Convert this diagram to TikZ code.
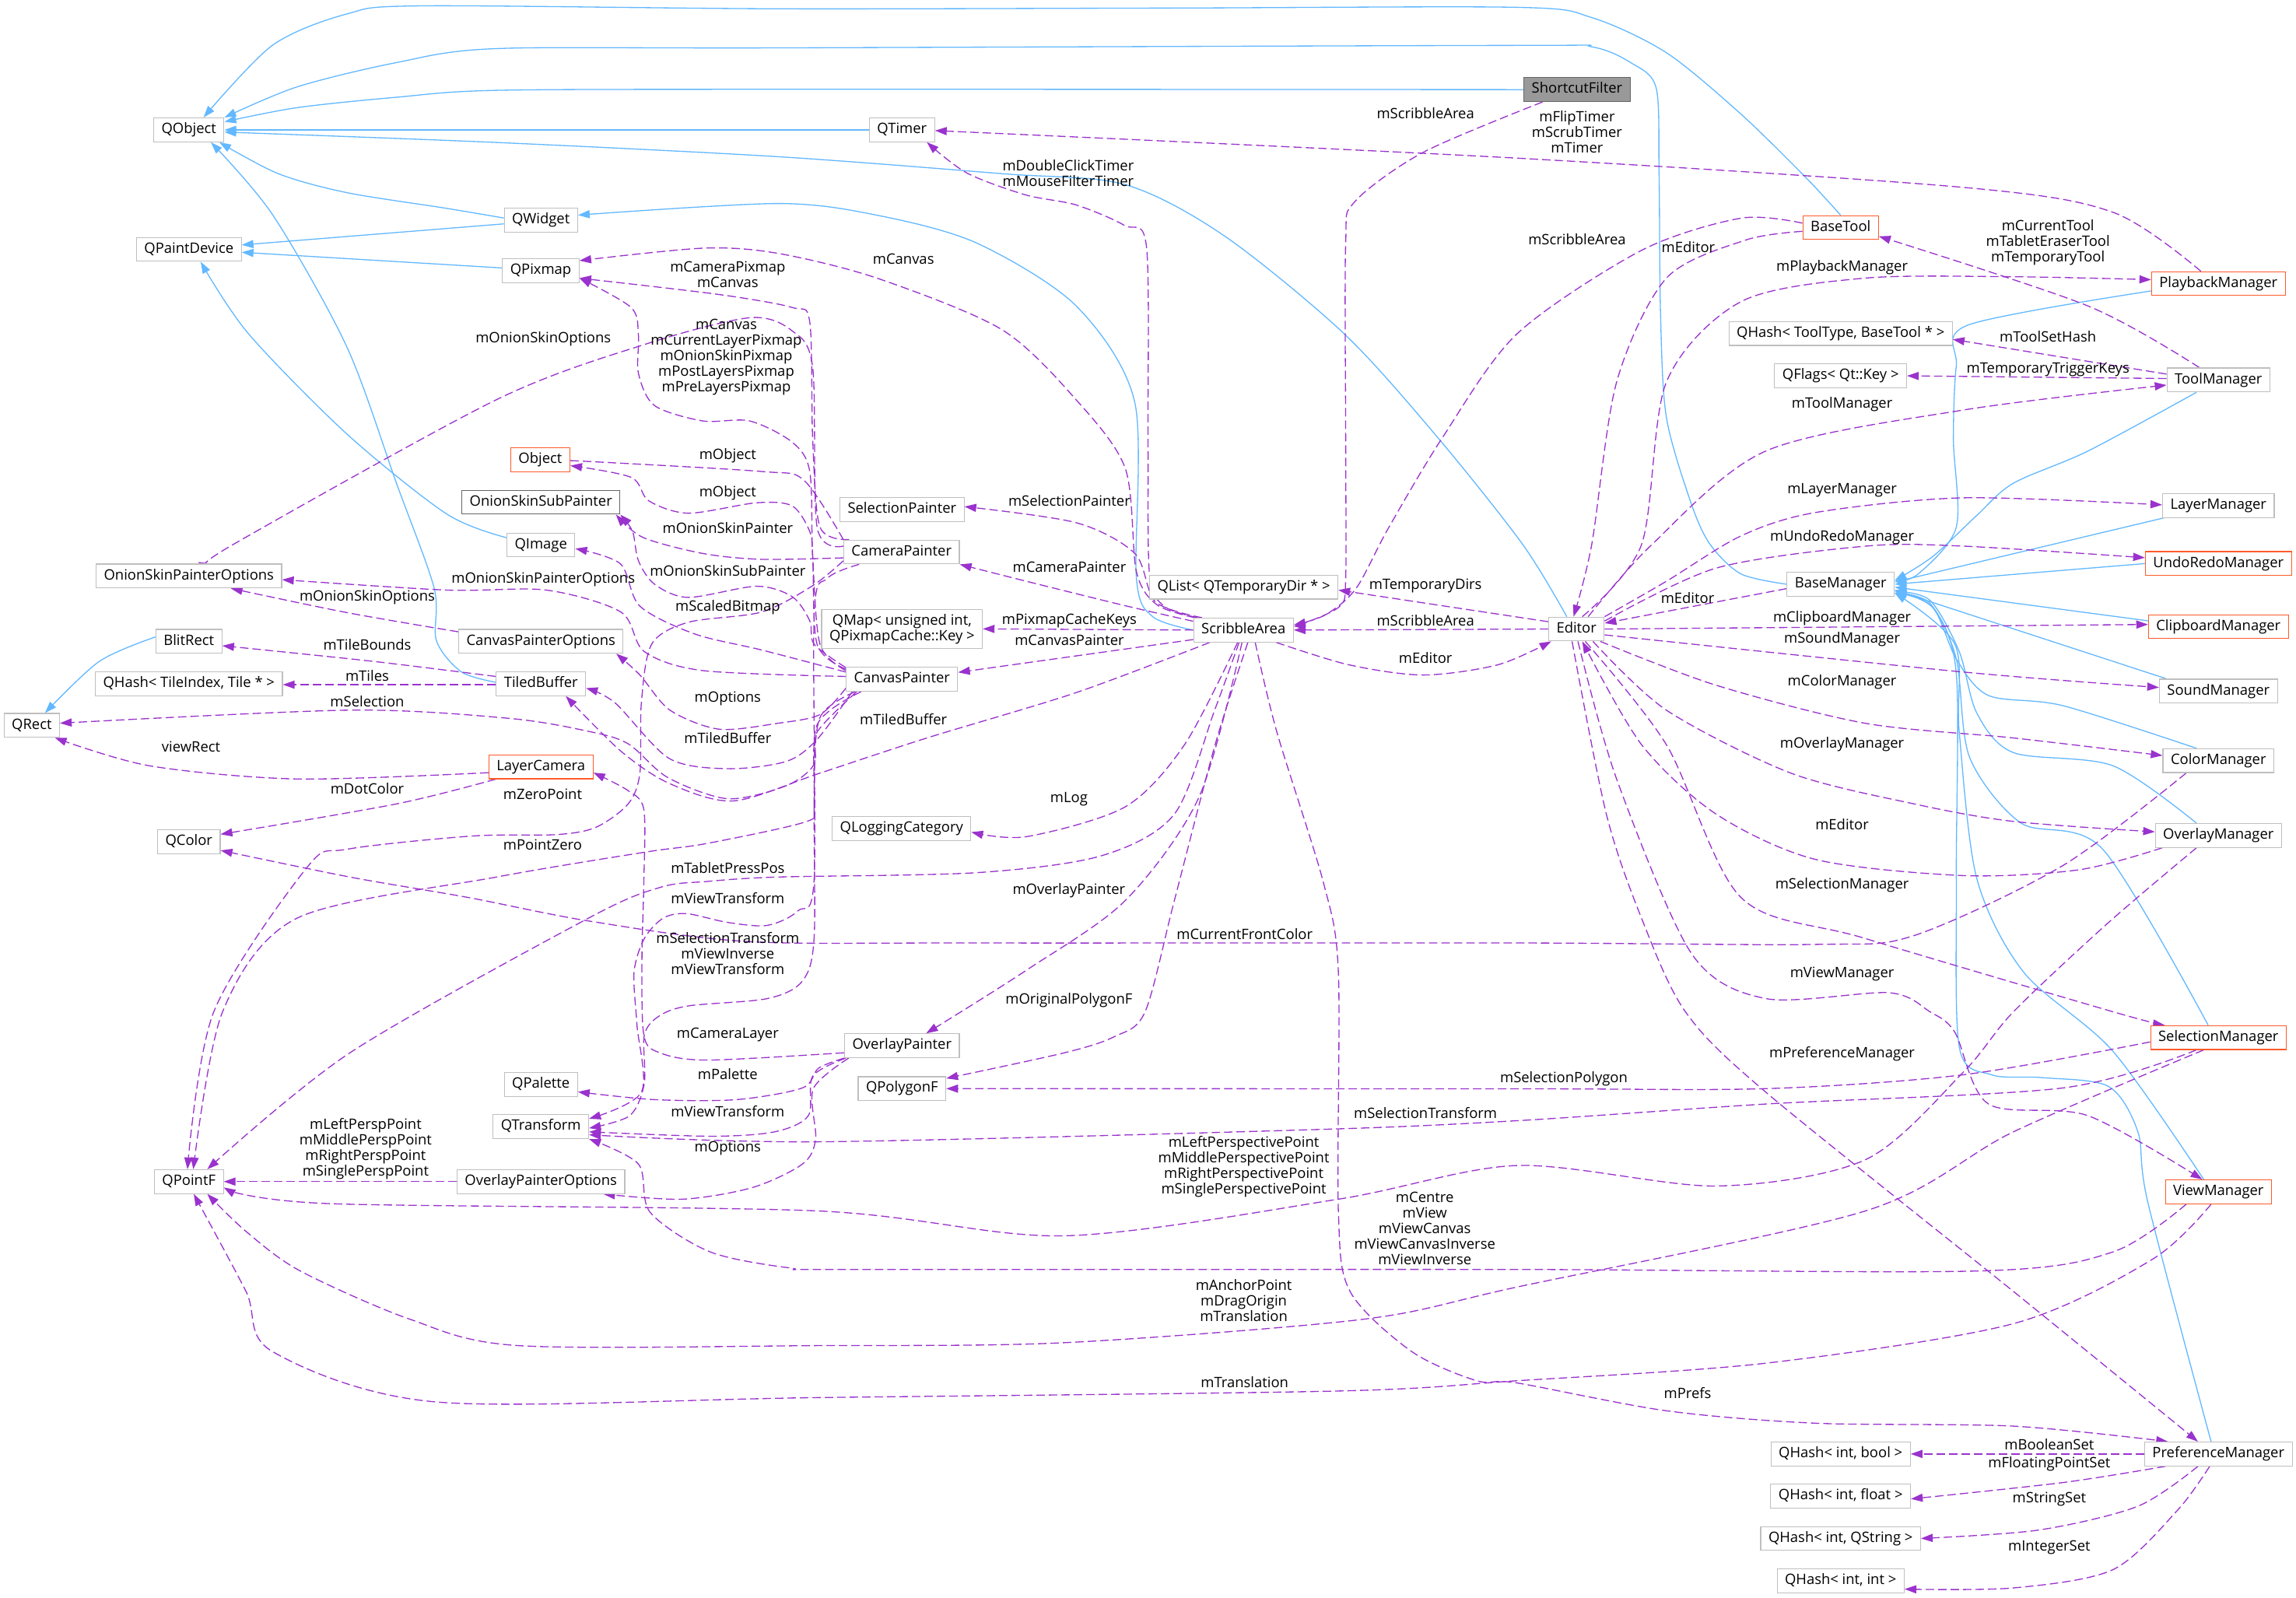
\documentclass[tikz,border=0pt]{standalone}
\usepackage{fontspec}
\setmainfont{Open Sans}
\usetikzlibrary{arrows.meta}

\definecolor{inhblue}{HTML}{63B8FF}
\definecolor{usepurple}{HTML}{9A32CD}
\definecolor{boxgrey}{HTML}{BFBFBF}
\definecolor{docgrey}{HTML}{666666}
\definecolor{rootgrey}{HTML}{999999}
\definecolor{truncred}{HTML}{FF5A2A}

\pgfdeclarelayer{edges}
\pgfsetlayers{edges,main}

\tikzset{
  cls/.style={draw=boxgrey, fill=white, line width=0.6pt, font=\fontsize{9.8}{10.6}\selectfont,
    inner xsep=5.3pt, inner ysep=0pt, minimum height=16.3pt, text height=7.3pt, text depth=2.3pt},
  clstwo/.style={draw=boxgrey, fill=white, line width=0.6pt, font=\fontsize{9.8}{10.6}\selectfont,
    align=center, inner xsep=5.3pt, inner ysep=2pt, minimum height=26.8pt},
  trunc/.style={cls, draw=truncred},
  docd/.style={cls, draw=docgrey},
  rootcls/.style={cls, draw=docgrey, fill=rootgrey},
  lbl/.style={font=\fontsize{9.8}{10.6}\selectfont, align=center, inner sep=0pt},
  inh/.style={draw=inhblue, line width=0.7pt, -{Triangle[length=8pt,width=5.5pt]}},
  usage/.style={draw=usepurple, line width=0.7pt, dash pattern=on 5.8pt off 2.7pt, -{Triangle[length=8pt,width=5.5pt]}},
}

\begin{document}
\begin{tikzpicture}[x=1pt,y=-1pt]
\useasboundingbox (0,0) rectangle (1568,1091);

%Classes, left columns
\node[cls] (qobj) at (129,88.7) {QObject};
\node[cls] (qwid) at (369.4,150.4) {QWidget};
\node[cls] (qpd) at (129,170.3) {QPaintDevice};
\node[cls] (qpix) at (369.3,185) {QPixmap};
\node[trunc] (obj) at (369,314) {Object};
\node[docd] (ossp) at (369.4,343) {OnionSkinSubPainter};
\node[cls] (qimg) at (369.4,372.2) {QImage};
\node[cls] (ospo) at (129,393.4) {OnionSkinPainterOptions};
\node[cls] (cpo) at (369.4,438) {CanvasPainterOptions};
\node[cls] (blit) at (129,438) {BlitRect};
\node[cls] (qhtile) at (129,467) {QHash< TileIndex, Tile * >};
\node[cls] (tiled) at (369.4,467) {TiledBuffer};
\node[cls] (qrect) at (21.7,495.4) {QRect};
\node[trunc] (lcam) at (369.4,523.7) {LayerCamera};
\node[cls] (qcolor) at (129,575) {QColor};
\node[cls] (qpf) at (129,807) {QPointF};
\node[cls] (opo) at (369.4,807) {OverlayPainterOptions};
\node[cls] (qpal) at (369.4,740.7) {QPalette};
\node[cls] (qtr) at (369.4,769.5) {QTransform};

%Classes, middle columns
\node[rootcls] (scf) at (1077,61.2) {ShortcutFilter};
\node[cls] (qtimer) at (616,88.7) {QTimer};
\node[cls] (selp) at (616,348) {SelectionPainter};
\node[cls] (camp) at (615.7,377) {CameraPainter};
\node[clstwo] (qmap) at (616,429.5) {QMap< unsigned int,\\ QPixmapCache::Key >};
\node[cls] (canp) at (616,464) {CanvasPainter};
\node[cls] (qlog) at (615.7,565.8) {QLoggingCategory};
\node[cls] (qlist) at (849.4,401) {QList< QTemporaryDir * >};
\node[cls] (sarea) at (849.2,430.3) {ScribbleArea};
\node[cls] (editor) at (1076.6,429.6) {Editor};
\node[cls] (ovp) at (616,714.2) {OverlayPainter};
\node[cls] (qpoly) at (616,743.5) {QPolygonF};

%Classes, right columns
\node[trunc] (btool) at (1257,155.4) {BaseTool};
\node[trunc] (playm) at (1515,193.7) {PlaybackManager};
\node[cls] (qhtool) at (1257,227.8) {QHash< ToolType, BaseTool * >};
\node[cls] (qflags) at (1257,256.7) {QFlags< Qt::Key >};
\node[cls] (toolm) at (1515,259.5) {ToolManager};
\node[cls] (layerm) at (1515,345.3) {LayerManager};
\node[trunc] (undom) at (1515,384.9) {UndoRedoManager};
\node[cls] (basem) at (1257,399) {BaseManager};
\node[trunc] (clipm) at (1515,428) {ClipboardManager};
\node[cls] (soundm) at (1515,472) {SoundManager};
\node[cls] (colorm) at (1515,519.5) {ColorManager};
\node[cls] (overm) at (1515,570.6) {OverlayManager};
\node[trunc] (selm) at (1515,708.6) {SelectionManager};
\node[trunc] (viewm) at (1515,814) {ViewManager};
\node[cls] (prefm) at (1515,993) {PreferenceManager};
\node[cls] (qhbool) at (1257,993) {QHash< int, bool >};
\node[cls] (qhfloat) at (1257,1021.7) {QHash< int, float >};
\node[cls] (qhstr) at (1257,1050.7) {QHash< int, QString >};
\node[cls] (qhint) at (1257,1079.8) {QHash< int, int >};

\begin{pgfonlayer}{edges}
%Inheritance
\draw[inh] plot[smooth] coordinates {(btool.north) (1233,121) (1189,78) (1138,36) (1087,12) (1036,5) (800,5.5) (531,6) (288,4) (237,9.5) (186,31) ([xshift=10pt]qobj.north)};
\draw[inh] plot[smooth] coordinates {(basem.west) (1189,392) (1168,372) (1155,344) (1138,285) (1134,214) (1133,118) (1131,60) (1114,43) (1087,32) (1036,31) (531,32.7) (339,33.2) (271,42.7) (203,59.3) (qobj.north east)};
\draw[inh] plot[smooth] coordinates {(scf.west) (531,61) (339,61.7) (271,66.4) (203,73.5) ([yshift=5.5pt]qobj.east)};
\draw[inh] (qtimer.west) -- (qobj.east);
\draw[inh] plot[smooth] coordinates {([xshift=-6.6pt]editor.north) (1040,372) (982,299) (918,228) (836,161) (768,126) (684,118.6) (531,107) (339,97.3) ([yshift=-1.5pt]qobj.east)};
\draw[inh] plot[smooth] coordinates {([yshift=1.5pt]qwid.west) (305,142.3) (237,131.6) (190,118.6) ([xshift=-3.5pt]qobj.south east)};
\draw[inh] plot[smooth] coordinates {([yshift=1pt]tiled.west) (315,458.8) (298,437.4) (296.5,401.7) (271,330.7) (237,237.2) (186.4,147) ([xshift=15pt]qobj.south)};
\draw[inh] ([yshift=-2.5pt]qwid.west) -- ([yshift=3pt]qpd.east);
\draw[inh] ([yshift=2pt]qpix.west) -- ([yshift=-2pt]qpd.east);
\draw[inh] plot[smooth] coordinates {([yshift=5pt]qimg.west) (305,351) (237,296.5) (169.5,227.7) ([xshift=8pt]qpd.south)};
\draw[inh] plot[smooth] coordinates {(sarea.west) (787,421) (776,394) (775,275) (735,209) (667,166) (599,147) (531,139) ([yshift=3.5pt]qwid.east)};
\draw[inh] plot[smooth] coordinates {([yshift=3pt]blit.west) (67.8,451.7) ([xshift=9pt]qrect.north)};
\draw[inh] plot[smooth] coordinates {([yshift=-5pt]playm.west) (1344,222) (1336,250) (1334,300) (1336,360) (1310,392) ([yshift=2pt]basem.east)};
\draw[inh] plot[smooth] coordinates {([xshift=-15pt]toolm.south) (1426,308) (1375,330) (1350,352) (1320,380) ([yshift=2.5pt]basem.east)};
\draw[inh] ([xshift=1pt]layerm.south west) -- ([yshift=1.5pt]basem.east);
\draw[inh] (undom.west) -- (basem.east);
\draw[inh] ([yshift=4pt]clipm.west) -- ([yshift=-2pt]basem.east);
\draw[inh] ([xshift=5pt]soundm.north west) -- ([yshift=-4pt]basem.east);
\draw[inh] plot[smooth] coordinates {([xshift=-15pt]colorm.north) (1409,482) (1358,475) (1336,450) (1320,415) ([yshift=-4pt]basem.east)};
\draw[inh] plot[smooth] coordinates {([xshift=-15pt]overm.north) (1443,523) (1375,514) (1350,487) (1338,445) (1318,410) ([yshift=-5pt]basem.east)};
\draw[inh] plot[smooth] coordinates {([xshift=-7pt]selm.north) (1436,580) (1380,562) (1345,517) (1336,450) (1318,412) ([yshift=-6pt]basem.east)};
\draw[inh] plot[smooth] coordinates {([xshift=-10pt]viewm.north) (1443,718) (1382,664) (1350,600) (1338,500) (1335,440) ([yshift=-6pt]basem.east)};
\draw[inh] plot[smooth] coordinates {([xshift=-5pt]prefm.north) (1467,822) (1460,773) (1440,742) (1395,736) (1360,734) (1338,715) (1336,600) (1336,460) (1320,415) ([yshift=-6pt]basem.east)};

%Usage, top and right
\draw[usage] plot[smooth] coordinates {([xshift=13pt]scf.south west) (972,104) (925,138) (919,166) (919,300) (919,395) (915,414) (891,425.6) ([yshift=2.5pt]sarea.east)};
\draw[usage] plot[smooth] coordinates {([xshift=-12pt]playm.north) (1443,145) (1341,128) (1036,108) ([yshift=-0.5pt]qtimer.east)};
\draw[usage] plot[smooth] coordinates {([xshift=3pt]sarea.north west) (795,414) (785,392) (784,300) (783,169) (768,154) (735,140) (700,133) (660,118) ([xshift=17pt]qtimer.south)};
\draw[usage] plot[smooth] coordinates {([yshift=3pt]btool.west) (1189,149) (1121,171) (1036,228) (985,299) (948,361) (926,402) (905,420) ([yshift=3.5pt]sarea.east)};
\draw[usage] plot[smooth] coordinates {([yshift=-2.6pt]btool.west) (1192,164) (1138,190) (1104,261) (1087,372) ([xshift=-2pt]editor.north)};
\draw[usage] plot[smooth] coordinates {([xshift=-13pt]toolm.north) (1426,209) ([yshift=-6pt]btool.east)};
\draw[usage] plot[smooth] coordinates {([xshift=4pt]editor.north) (1121,372) (1138,261) (1189,206) (1273,190) (1374,189) ([yshift=2.7pt]playm.west)};
\draw[usage] ([yshift=4pt]toolm.west) -- ([yshift=-4pt]qhtool.east);
\draw[usage] ([yshift=1pt]toolm.west) -- (qflags.east);
\draw[usage] plot[smooth] coordinates {([xshift=8pt]editor.north) (1128,372) (1206,308) (1341,280) ([yshift=-3.5pt]toolm.west)};
\draw[usage] plot[smooth] coordinates {(editor.north east) (1138,397) (1189,366) (1240,350) (1341,340) ([yshift=0.5pt]layerm.west)};
\draw[usage] plot[smooth] coordinates {([yshift=-3pt]editor.north east) (1172,388) (1274,373) (1341,373) ([yshift=4pt]undom.west)};
\draw[usage] ([yshift=-3pt]basem.west) -- ([yshift=4pt]editor.east);
\draw[usage] (editor.east) -- ([yshift=1.5pt]clipm.west);
\draw[usage] plot[smooth] coordinates {([yshift=-4pt]editor.east) (1341,459) ([yshift=2.5pt]soundm.west)};
\draw[usage] plot[smooth] coordinates {([xshift=-3pt]editor.south east) (1172,468) (1274,494) (1375,504) ([yshift=3.5pt]colorm.west)};
\draw[usage] plot[smooth] coordinates {([xshift=-8pt]editor.south east) (1138,485) (1223,528) (1307,549) (1375,561) ([yshift=2.5pt]overm.west)};
\draw[usage] plot[smooth] coordinates {([xshift=5pt]overm.south west) (1420,594) (1341,598) (1240,587) (1172,556) (1121,508.5) ([xshift=4pt]editor.south)};
\draw[usage] plot[smooth] coordinates {([xshift=6pt]editor.south) (1138,508.6) (1189,613) (1274,641) (1443,691) ([xshift=10pt]selm.north west)};
\draw[usage] plot[smooth] coordinates {([xshift=1pt]editor.south) (1104,532) (1155,651) (1206,682) (1290,678) (1318,691) (1335,705) (1358,754) (1426,762) ([xshift=-11pt]viewm.north)};
\draw[usage] plot[smooth] coordinates {([xshift=-3pt]editor.south) (1097,556) (1121,627) (1151,691) (1206,746) (1375,882) ([xshift=-14pt]prefm.north)};
\draw[usage] plot[smooth] coordinates {([xshift=-22pt]colorm.south) (1409,591) (1307,639) (1240,645) (1036,644) (664,644) (510,643) (402,629) (320,613) (239,599) ([yshift=-5.8pt]qcolor.east)};
\draw[usage] plot[smooth] coordinates {([yshift=-3pt]selm.west) (1341,734) (1206,743.5) (1036,743.6) (qpoly.east)};
\draw[usage] plot[smooth] coordinates {([xshift=-15pt]selm.south) (1409,743) (1206,754) (1036,765.4) (897,771.5) (558,779.8) ([yshift=-5.5pt]qtr.east)};
\draw[usage] plot[smooth] coordinates {([xshift=-15pt]overm.south) (1440,630) (1375,691) (1341,732) (1274,792) (1172,810) (1036,796) (914,819) (727,844) (558,827) (224,822) ([yshift=-4pt]qpf.east)};
\draw[usage] plot[smooth] coordinates {([xshift=-22pt]viewm.south) (1443,855) (1352,868) (1036,867) (584,867) (540,866) (485,855) (444,828) (436,795) (qtr.south east)};
\draw[usage] plot[smooth] coordinates {([xshift=-10pt]selm.south) (1375,773) (1274,827) (1036,879) (931,901) (727,917) (558,919) (354,919) (280,901) (205,868) (168,841) ([xshift=12.6pt]qpf.south)};
\draw[usage] plot[smooth] coordinates {([xshift=-5pt]viewm.south) (1470,860) (1375,904) (1206,931) (1036,943) (914,950) (558,954.5) (298,957.5) (186,923) (168,882) ([xshift=3.3pt]qpf.south)};
\draw[usage] plot[smooth] coordinates {([xshift=8pt]sarea.south) (872,500) (904,603.5) (914,664) (914,827) (922,882) (964,923) (1008.5,943) (1036,944.5) (1138,963.5) (1240,972) (1375,974) ([xshift=-34.5pt]prefm.north)};
\draw[usage] (prefm.west) -- (qhbool.east);
\draw[usage] plot[smooth] coordinates {([xshift=14.5pt]prefm.south west) (1409,1012.5) ([yshift=-2pt]qhfloat.east)};
\draw[usage] plot[smooth] coordinates {([xshift=-14pt]prefm.south) (1460,1028.7) (1392,1045) (qhstr.east)};
\draw[usage] plot[smooth] coordinates {([xshift=-6pt]prefm.south) (1487,1031.5) (1443,1072) (1375,1084.5) ([yshift=-5.5pt]qhint.east)};

%Usage, ScribbleArea and Editor
\draw[usage] ([yshift=5pt]editor.west) -- ([yshift=-2pt]qlist.east);
\draw[usage] (editor.west) -- (sarea.east);
\draw[usage] plot[smooth] coordinates {([xshift=-12pt]sarea.south east) (921,454) (972,461) (1023,454) ([xshift=2pt]editor.south west)};
\draw[usage] plot[smooth] coordinates {([xshift=6pt]sarea.north west) (789,411) (775,378) (735,357) ([yshift=2pt]selp.east)};
\draw[usage] plot[smooth] coordinates {([yshift=6pt]sarea.west) (768.5,413.7) (701,397) (camp.south east)};
\draw[usage] (sarea.west) -- (qmap.east);
\draw[usage] ([yshift=-6.5pt]sarea.west) -- ([yshift=4.8pt]canp.east);
\draw[usage] plot[smooth] coordinates {([xshift=-4pt]sarea.south) (809,508.5) (768.5,551) (701,571.4) ([yshift=-2.5pt]qlog.east)};
\draw[usage] plot[smooth] coordinates {([xshift=-1pt]sarea.south) (819,544) (768.5,615) (701,662.6) ([xshift=16.5pt]ovp.north)};
\draw[usage] plot[smooth] coordinates {([xshift=3pt]sarea.south) (830,508) (802,615) (782,691) (761,708) (727,719) ([yshift=7pt]qpoly.east)};
\draw[usage] plot[smooth] coordinates {([xshift=-3pt]sarea.south) (829.5,485) (802,556) (752,584.5) (667,596) (531,599) (483,602) (451,606) (402,627) (239,719) ([xshift=12.6pt]qpf.north)};
\draw[usage] plot[smooth] coordinates {([xshift=1pt]sarea.north west) (790,413) (776,390) (768.5,320) (734.7,272.8) (684,225) (599,190) (531,173) (480,169.5) ([yshift=7pt]qpix.east)};
\draw[usage] plot[smooth] coordinates {([xshift=-23pt]sarea.south) (735,473) (633,504) (560,528) (501,547) (457,535) (424,513) ([xshift=17pt]tiled.south)};

%Usage, painters
\draw[usage] plot[smooth] coordinates {([xshift=4pt]camp.north west) (560,360) (555,300) (553,220) (541,210) (490,201) ([yshift=-5pt]qpix.east)};
\draw[usage] plot[smooth] coordinates {([yshift=6pt]canp.west) (560,440) (555,380) (553,322) (541,302) (512,287.5) (480,287.5) (447,277) (436,255) (436,229) (431,210) ([yshift=-5pt]qpix.east)};
\draw[usage] plot[smooth] coordinates {([yshift=4pt]camp.west) (558,360) (555,251) (541,226) (512,217) (441,235) (339,273) (159,372) ([xshift=15pt]ospo.north)};
\draw[usage] plot[smooth] coordinates {(camp.north west) (549,328) (520,322) (398.5,315) ([yshift=-1pt]obj.east)};
\draw[usage] plot[smooth] coordinates {([yshift=7pt]canp.west) (558,440) (555,380) (553,363) (541,345.5) (516.5,343.4) (470,350.5) (443,342) (431,326) ([yshift=-4pt]obj.east)};
\draw[usage] plot[smooth] coordinates {([yshift=-4pt]camp.west) (520,382) (480,378) (439,367) ([xshift=-3pt]ossp.south east)};
\draw[usage] plot[smooth] coordinates {([yshift=8pt]canp.west) (556,440) (553,424) (541,407.5) (516.5,400.4) (470,408) (447,399) (436,383) (432,363) (ossp.south east)};
\draw[usage] plot[smooth] coordinates {([yshift=5pt]canp.west) (520.5,444) (474.5,433) (437,414) (423.6,385) ([yshift=-2.5pt]qimg.east)};
\draw[usage] plot[smooth] coordinates {([yshift=2pt]canp.west) (480,458) (440,445) (424,418) (373,403) (305,403) ([yshift=-2.5pt]ospo.east)};
\draw[usage] plot[smooth] coordinates {([yshift=6.5pt]cpo.west) (237,418.4) ([xshift=28.6pt]ospo.south)};
\draw[usage] plot[smooth] coordinates {([yshift=5pt]tiled.west) (254,451.6) ([yshift=-3pt]blit.east)};
\draw[usage] ([yshift=-0.6pt]tiled.west) -- ([yshift=-0.6pt]qhtile.east);
\draw[usage] plot[smooth] coordinates {([xshift=-31pt]canp.south) (558,500) (556,522) (537,536.6) (497,545.5) (456,531) (429,508) (402,499.5) (347.5,490.6) (239,485) ([yshift=1.5pt]qrect.east)};
\draw[usage] plot[smooth] coordinates {([yshift=-6pt]canp.west) (560,488) (531,494) (491,498) (457.5,485) (437,461) ([xshift=-5pt]cpo.south east)};
\draw[usage] plot[smooth] coordinates {([xshift=-34pt]canp.south) (558,505) (537,520) (497,525) (457,518) (420,480) ([yshift=-3pt]tiled.east)};
\draw[usage] plot[smooth] coordinates {([yshift=-4pt]lcam.west) (203,532) (102,523) ([xshift=-3.5pt]qrect.south east)};
\draw[usage] plot[smooth] coordinates {([xshift=5pt]lcam.south west) (271,549) ([yshift=5.2pt]qcolor.east)};
\draw[usage] plot[smooth] coordinates {([yshift=-6pt]camp.west) (555,400) (520,418) (470,425) (445,440) (438,480) (437,528) (429,549) (407,565) (380,570) (322,571) (237,580) (210,592) (146,691) ([xshift=-1pt]qpf.north)};
\draw[usage] plot[smooth] coordinates {([xshift=-28pt]canp.south) (558,495) (556,549) (551,561) (483,576) (440.5,582) (339,599) (203,627) (152,691) ([xshift=3pt]qpf.north)};
\draw[usage] plot[smooth] coordinates {([xshift=-29pt]camp.south) (565,395) (556,420) (556,600) (545,622) (524,632) (497,630) (469,624) (453,627) (440,641) (433,664) (435,700) (438,746) ([yshift=-3pt]qtr.north east)};
\draw[usage] plot[smooth] coordinates {([xshift=-32pt]canp.south) (560,490) (556,540) (556,640) (548,670) (524,682) (470,687) (450,694) (440,707) (440,740) (430,762) ([yshift=-1pt]qtr.east)};
\draw[usage] plot[smooth] coordinates {([yshift=-4.8pt]ovp.west) (483,724) (450.6,719) (439.7,707) (438.4,655) (439.7,602) (439.7,553) (429,540) ([yshift=-4pt]lcam.east)};
\draw[usage] plot[smooth] coordinates {(ovp.south west) (559,729.5) (548,743) (503,751) (447,751) ([yshift=-5pt]qpal.east)};
\draw[usage] plot[smooth] coordinates {([xshift=1pt]ovp.south west) (555,735) (552,762) (529,773) (485,776) ([yshift=-3.5pt]qtr.east)};
\draw[usage] plot[smooth] coordinates {([xshift=3pt]ovp.south west) (555.4,743.6) (557,778) (548,795) (514,811) (466,819) ([xshift=-15pt]opo.south east)};
\draw[usage] (opo.west) -- (qpf.east);
\end{pgfonlayer}

% Text Node
\node[lbl] (tScfSa) at (973.5,77.6) {mScribbleArea};
\node[lbl] (tPlayTimer) at (1077,90) {mFlipTimer\\mScrubTimer\\mTimer};
\node[lbl] (tSaTimer) at (729.5,118.4) {mDoubleClickTimer\\mMouseFilterTimer};
\node[lbl] (tToolSa) at (1077,163.7) {mScribbleArea};
\node[lbl] (tToolEd) at (1153,169) {mEditor};
\node[lbl] (tCurTool) at (1398.6,165.4) {mCurrentTool\\mTabletEraserTool\\mTemporaryTool};
\node[lbl] (tPlayM) at (1258,182.6) {mPlaybackManager};
\node[lbl] (tSaPix) at (617,176.7) {mCanvas};
\node[lbl] (tCamPix) at (497,187.5) {mCameraPixmap\\mCanvas};
\node[lbl] (tCanPix) at (496,243.8) {mCanvas\\mCurrentLayerPixmap\\mOnionSkinPixmap\\mPostLayersPixmap\\mPreLayersPixmap};
\node[lbl] (tCamOso) at (371,231.3) {mOnionSkinOptions};
\node[lbl] (tToolHash) at (1398.6,229.6) {mToolSetHash};
\node[lbl] (tTrigKeys) at (1398.6,252.6) {mTemporaryTriggerKeys};
\node[lbl] (tToolM) at (1258,276.4) {mToolManager};
\node[lbl] (tCamObj) at (497,311.3) {mObject};
\node[lbl] (tCanObj) at (497,336.7) {mObject};
\node[lbl] (tLayerM) at (1258,334.7) {mLayerManager};
\node[lbl] (tSelP) at (730.3,341.8) {mSelectionPainter};
\node[lbl] (tCamOsp) at (497,360.7) {mOnionSkinPainter};
\node[lbl] (tUndoM) at (1258,367) {mUndoRedoManager};
\node[lbl] (tCamP) at (730.3,387.1) {mCameraPainter};
\node[lbl] (tCanOsp) at (497,389.8) {mOnionSkinSubPainter};
\node[lbl] (tCanOspo) at (371,395.9) {mOnionSkinPainterOptions};
\node[lbl] (tTmpDirs) at (973.5,400) {mTemporaryDirs};
\node[lbl] (tCpoOso) at (250.8,407.8) {mOnionSkinOptions};
\node[lbl] (tBmEd) at (1152.5,408.5) {mEditor};
\node[lbl] (tScaled) at (497,415) {mScaledBitmap};
\node[lbl] (tClipM) at (1258,422.4) {mClipboardManager};
\node[lbl] (tCacheKeys) at (730.3,423.9) {mPixmapCacheKeys};
\node[lbl] (tEdSa) at (973.5,424) {mScribbleArea};
\node[lbl] (tSoundM) at (1258,436.7) {mSoundManager};
\node[lbl] (tCanP) at (730.3,437) {mCanvasPainter};
\node[lbl] (tTileB) at (250.8,440.3) {mTileBounds};
\node[lbl] (tSaEd) at (973.5,449.3) {mEditor};
\node[lbl] (tTiles) at (250.8,461.6) {mTiles};
\node[lbl] (tColorM) at (1258,466) {mColorManager};
\node[lbl] (tCanOpt) at (497,477) {mOptions};
\node[lbl] (tSel) at (250.8,479.3) {mSelection};
\node[lbl] (tSaTiled) at (617,491) {mTiledBuffer};
\node[lbl] (tCanTiled) at (497,503.9) {mTiledBuffer};
\node[lbl] (tOverM) at (1258,508.5) {mOverlayManager};
\node[lbl] (tViewRect) at (130.5,509.8) {viewRect};
\node[lbl] (tDot) at (250.8,538.8) {mDotColor};
\node[lbl] (tZero) at (370.6,542.3) {mZeroPoint};
\node[lbl] (tLog) at (730,546) {mLog};
\node[lbl] (tOmEd) at (1258,563) {mEditor};
\node[lbl] (tPZero) at (370.6,577) {mPointZero};
\node[lbl] (tTablet) at (497,592.5) {mTabletPressPos};
\node[lbl] (tSelM) at (1258,604.6) {mSelectionManager};
\node[lbl] (tOvP) at (730,608.2) {mOverlayPainter};
\node[lbl] (tCamVT) at (497,613.7) {mViewTransform};
\node[lbl] (tFront) at (850,637.8) {mCurrentFrontColor};
\node[lbl] (tCanVT) at (497,651.2) {mSelectionTransform\\mViewInverse\\mViewTransform};
\node[lbl] (tViewM) at (1258,665) {mViewManager};
\node[lbl] (tOrigPoly) at (730,683.3) {mOriginalPolygonF};
\node[lbl] (tCamLayer) at (497,706.7) {mCameraLayer};
\node[lbl] (tPrefM) at (1258,720) {mPreferenceManager};
\node[lbl] (tPal) at (497,733.5) {mPalette};
\node[lbl] (tSelPoly) at (1068,737) {mSelectionPolygon};
\node[lbl] (tOvpVT) at (497,759) {mViewTransform};
\node[lbl] (tSelTr) at (973.5,760) {mSelectionTransform};
\node[lbl] (tOpoPersp) at (249.7,784.6) {mLeftPerspPoint\\mMiddlePerspPoint\\mRightPerspPoint\\mSinglePerspPoint};
\node[lbl] (tOvpOpt) at (497,784) {mOptions};
\node[lbl] (tOmPersp) at (849.4,797) {mLeftPerspectivePoint\\mMiddlePerspectivePoint\\mRightPerspectivePoint\\mSinglePerspectivePoint};
\node[lbl] (tViewTr) at (973,838.9) {mCentre\\mView\\mViewCanvas\\mViewCanvasInverse\\mViewInverse};
\node[lbl] (tAnchor) at (849.4,888) {mAnchorPoint\\mDragOrigin\\mTranslation};
\node[lbl] (tTransl) at (850,943.9) {mTranslation};
\node[lbl] (tPrefs) at (1152.5,951.3) {mPrefs};
\node[lbl] (tBool) at (1399.5,986.6) {mBooleanSet};
\node[lbl] (tFloat) at (1399.5,999.7) {mFloatingPointSet};
\node[lbl] (tStr) at (1399.5,1024) {mStringSet};
\node[lbl] (tInt) at (1399.5,1056.6) {mIntegerSet};

\end{tikzpicture}
\end{document}
